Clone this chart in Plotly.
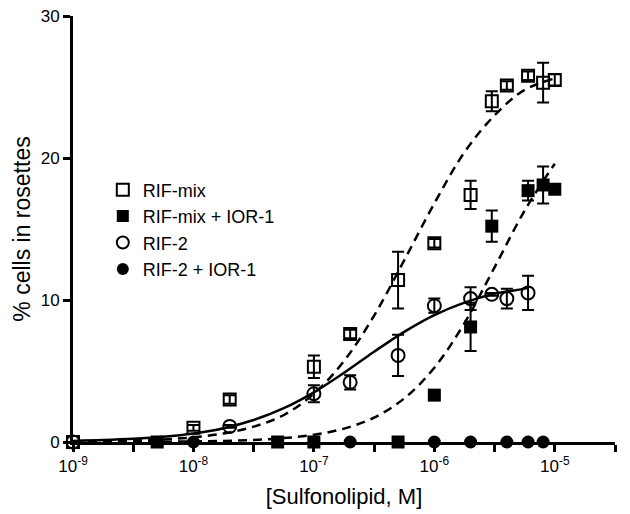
import plotly.graph_objects as go

# ---- data ----
mix_x = [1e-9, 1e-8, 2e-8, 1e-7, 2e-7, 5e-7, 1e-6, 2e-6, 3e-6, 4e-6, 6e-6, 8e-6, 1e-5]
mix_y = [0, 1.0, 3.0, 5.3, 7.6, 11.4, 14.0, 17.4, 24.0, 25.1, 25.8, 25.3, 25.5]
mix_e = [0, 0.2, 0.3, 0.8, 0.3, 2.0, 0.3, 1.0, 0.7, 0.3, 0.3, 1.4, 0.4]

mixior_x = [5e-9, 5e-8, 1e-7, 5e-7, 1e-6, 2e-6, 3e-6, 6e-6, 8e-6, 1e-5]
mixior_y = [0, 0, 0, 0, 3.3, 8.1, 15.2, 17.7, 18.1, 17.8]
mixior_e = [0, 0, 0, 0, 0.2, 1.7, 1.1, 0.7, 1.3, 0.3]

rif2_x = [1e-9, 2e-8, 1e-7, 2e-7, 5e-7, 1e-6, 2e-6, 3e-6, 4e-6, 6e-6]
rif2_y = [0, 1.1, 3.4, 4.2, 6.1, 9.6, 10.1, 10.4, 10.1, 10.5]
rif2_e = [0, 0.1, 0.6, 0.5, 1.45, 0.5, 0.8, 0.1, 0.7, 1.2]

rif2ior_x = [1e-8, 2e-7, 1e-6, 2e-6, 4e-6, 6e-6, 8e-6]
rif2ior_y = [0, 0, 0, 0, 0, 0, 0]

# fitted curves
curve_x = [1e-9, 10**-8.75, 10**-8.5, 10**-8.25, 1e-8, 10**-7.75, 10**-7.5, 10**-7.25,
           1e-7, 10**-6.75, 10**-6.5, 10**-6.25, 1e-6, 10**-5.75, 10**-5.5, 10**-5.25, 1e-5]
mix_fit = [0.03, 0.055, 0.1, 0.18, 0.33, 0.6, 1.08, 1.9, 3.4, 5.7, 8.9, 12.8, 16.8, 20.4, 23.0, 24.8, 25.6]
mixior_fit = [0.003, 0.006, 0.012, 0.022, 0.041, 0.078, 0.146, 0.274, 0.51, 0.945, 1.72, 3.07,
              5.23, 8.37, 12.3, 16.3, 19.6]
rif2_fit_x = curve_x[:16] + [10**-5.22]
rif2_fit = [0.079, 0.133, 0.221, 0.366, 0.60, 0.975, 1.55, 2.38, 3.5, 4.87, 6.36, 7.76,
            8.94, 9.82, 10.44, 10.8, 10.88]

names = ["RIF-mix", "RIF-mix + IOR-1", "RIF-2", "RIF-2 + IOR-1"]

x_tickvals = [10**-9, 10**-8.5, 10**-8, 10**-7.5, 10**-7, 10**-6.5, 10**-6, 10**-5.5, 10**-5, 10**-4.5]
x_ticktext = ["10<sup>-9</sup>", "", "10<sup>-8</sup>", "", "10<sup>-7</sup>", "",
              "10<sup>-6</sup>", "", "10<sup>-5</sup>", ""]
y_tickvals = [0, 10, 20, 30]

FONT = "Liberation Sans, Arial, sans-serif"

fig = go.Figure()

def curve(x, y, dash):
    fig.add_trace(go.Scatter(x=x, y=y, mode="lines", line=dict(color="black", width=2.5, dash=dash,
                             shape="spline"), showlegend=False, hoverinfo="skip", cliponaxis=False))

curve(curve_x, mix_fit, "9px,6px")
curve(curve_x, mixior_fit, "9px,6px")
curve(rif2_fit_x, rif2_fit, "solid")

def err(e):
    return dict(type="data", array=e, visible=True, color="black", thickness=2, width=6)

fig.add_trace(go.Scatter(x=mix_x, y=mix_y, name=names[0], mode="markers", error_y=err(mix_e),
                         marker=dict(symbol="square-open", size=12, color="black", line=dict(width=2)),
                         cliponaxis=False))
fig.add_trace(go.Scatter(x=mixior_x, y=mixior_y, name=names[1], mode="markers", error_y=err(mixior_e),
                         marker=dict(symbol="square", size=13, color="black"), cliponaxis=False))
fig.add_trace(go.Scatter(x=rif2_x, y=rif2_y, name=names[2], mode="markers", error_y=err(rif2_e),
                         marker=dict(symbol="circle-open", size=13, color="black", line=dict(width=2)),
                         cliponaxis=False))
fig.add_trace(go.Scatter(x=rif2ior_x, y=rif2ior_y, name=names[3], mode="markers",
                         marker=dict(symbol="circle", size=13, color="black"), cliponaxis=False))

fig.update_layout(
    width=630, height=514,
    margin=dict(l=73, r=15, t=16, b=72, autoexpand=False),
    paper_bgcolor="white", plot_bgcolor="white",
    font=dict(family=FONT, size=17, color="black"),
    showlegend=True,
    legend=dict(x=0.055, y=0.635, xanchor="left", yanchor="top", bgcolor="rgba(0,0,0,0)",
                font=dict(size=18), itemsizing="constant"),
    xaxis=dict(type="log", range=[-9, -4.5], tickmode="array", tickvals=x_tickvals,
               ticktext=x_ticktext, ticks="outside", ticklen=7, tickwidth=2.5, tickcolor="black",
               showline=True, linecolor="black", linewidth=3, showgrid=False, zeroline=False,
               tickfont=dict(size=17), automargin=False,
               title=dict(text="[Sulfonolipid, M]", font=dict(size=22), standoff=14)),
    yaxis=dict(range=[0, 30], tickmode="array", tickvals=y_tickvals, ticks="outside", ticklen=7,
               tickwidth=2.5, tickcolor="black", showline=True, linecolor="black", linewidth=3,
               showgrid=False, zeroline=False, tickfont=dict(size=17), automargin=False,
               title=dict(text="% cells in rosettes", font=dict(size=23), standoff=4)),
)

fig.write_html("out.html", config={"displayModeBar": False},
               post_script="document.body.style.margin='0';document.body.style.overflow='hidden';")
